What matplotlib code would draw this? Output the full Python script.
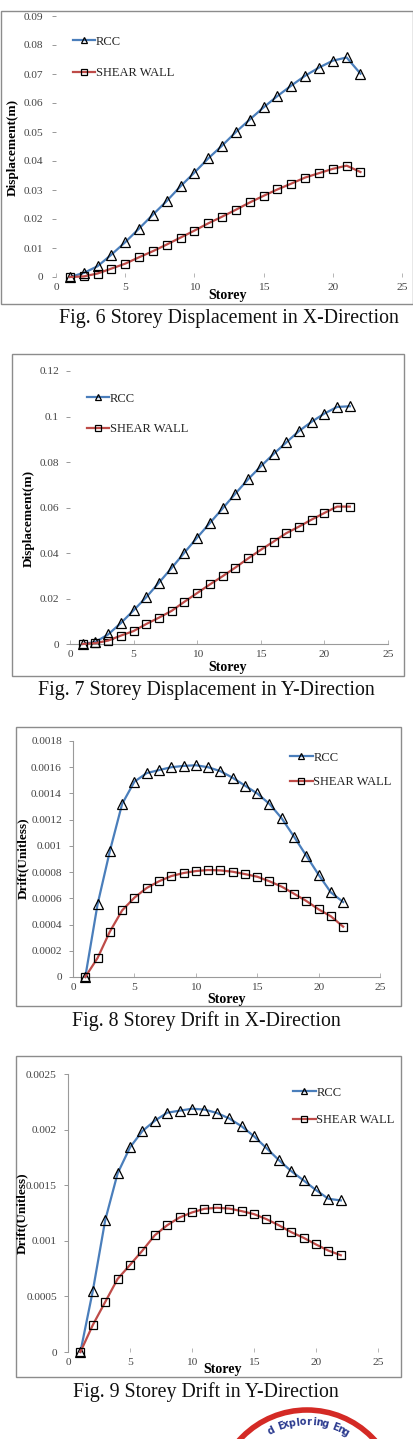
import matplotlib
matplotlib.use("Agg")
import matplotlib.pyplot as plt
import numpy as np
from matplotlib.patches import Rectangle, Circle

W, H = 413, 1439
plt.rcParams['font.family'] = ['Liberation Serif', 'DejaVu Serif']

storey = list(range(1, 23))

# Fig. 6 - storey displacement, X direction (m)
disp_x_rcc = [0, 0.0014, 0.0037, 0.0077, 0.012, 0.0167, 0.0215, 0.0262, 0.0313, 0.036, 0.0409,
              0.0453, 0.05, 0.0543, 0.0585, 0.0624, 0.066, 0.0694, 0.0722, 0.0746, 0.0757, 0.0701]
disp_x_sw = [0, 0.0002, 0.0012, 0.0029, 0.0046, 0.0068, 0.0089, 0.0112, 0.0136, 0.016, 0.0185,
             0.0208, 0.0232, 0.0257, 0.028, 0.0302, 0.0322, 0.0343, 0.0358, 0.0373, 0.0384, 0.0362]

# Fig. 7 - storey displacement, Y direction (m)
disp_y_rcc = [0, 0.0009, 0.0042, 0.0092, 0.0148, 0.0206, 0.027, 0.0335, 0.0402, 0.0468, 0.0532,
              0.0596, 0.0661, 0.0724, 0.0781, 0.0835, 0.0886, 0.0936, 0.0977, 0.1013, 0.1042, 0.1045]
disp_y_sw = [0, 0.0004, 0.0015, 0.0037, 0.0057, 0.0088, 0.0116, 0.0146, 0.0186, 0.0224, 0.0262,
             0.0298, 0.0336, 0.0376, 0.0414, 0.045, 0.0487, 0.0516, 0.0547, 0.0576, 0.0604, 0.0604]

# Fig. 8 - storey drift, X direction
drift_x_rcc = [0, 0.000554, 0.00096, 0.00132, 0.00149, 0.001555, 0.001578, 0.0016, 0.00161, 0.001615, 0.0016,
               0.00157, 0.00152, 0.00146, 0.0014, 0.00132, 0.00121, 0.00107, 0.000925, 0.00078, 0.000645, 0.000572]
drift_x_sw = [0, 0.000145, 0.000346, 0.000508, 0.000605, 0.000679, 0.00073, 0.00077, 0.000793, 0.000808, 0.000816,
              0.000813, 0.000803, 0.000785, 0.000765, 0.00073, 0.000689, 0.000635, 0.00058, 0.000516, 0.000463, 0.000384]

# Fig. 9 - storey drift, Y direction
drift_y_rcc = [0, 0.000549, 0.001185, 0.001606, 0.00184, 0.001987, 0.00208, 0.002152, 0.00217, 0.002188, 0.00218,
               0.00215, 0.0021, 0.00203, 0.00194, 0.001834, 0.001726, 0.001627, 0.001543, 0.001456, 0.001378, 0.001363]
drift_y_sw = [0, 0.000243, 0.00045, 0.000657, 0.000783, 0.000912, 0.00105, 0.00114, 0.00121, 0.001255, 0.001288,
              0.001297, 0.00129, 0.001267, 0.00124, 0.001195, 0.00114, 0.001078, 0.001027, 0.000967, 0.000912, 0.00087]

x_ticks = [0, 5, 10, 15, 20, 25]
y_ticks_6 = ['0', '0.01', '0.02', '0.03', '0.04', '0.05', '0.06', '0.07', '0.08', '0.09']
y_ticks_7 = ['0', '0.02', '0.04', '0.06', '0.08', '0.1', '0.12']
y_ticks_8 = ['0', '0.0002', '0.0004', '0.0006', '0.0008', '0.001', '0.0012', '0.0014', '0.0016', '0.0018']
y_ticks_9 = ['0', '0.0005', '0.001', '0.0015', '0.002', '0.0025']

captions = ['Fig. 6 Storey Displacement in X-Direction',
            'Fig. 7 Storey Displacement in Y-Direction',
            'Fig. 8 Storey Drift in X-Direction',
            'Fig. 9 Storey Drift in Y-Direction']
series_names = ['RCC', 'SHEAR WALL']

fig = plt.figure(figsize=(W / 100, H / 100), dpi=100)

# background axes in pixel units: frames, captions, labels, logo
bg = fig.add_axes([0, 0, 1, 1])
bg.set_xlim(0, W)
bg.set_ylim(H, 0)
bg.axis('off')


def make_axes(left, right, top, bottom):
    return fig.add_axes([left / W, 1 - bottom / H, (right - left) / W, (bottom - top) / H])


panels = [
    dict(box=(56, 402, 16, 277), frame=(0.5, 412.5, 11, 304), yt=y_ticks_6, rcc=disp_x_rcc, sw=disp_x_sw,
         ylab='Displacement(m)', ylxy=(13, 147), xlxy=(228, 296), cap=(229, 318), leg=(0.049, 0.925),
         sp=1.55, spines=[], ypad=6),
    dict(box=(70, 388, 371, 644), frame=(12, 404, 354, 676), yt=y_ticks_7, rcc=disp_y_rcc, sw=disp_y_sw,
         ylab='Displacement(m)', ylxy=(29, 518), xlxy=(228, 668), cap=(206, 690), leg=(0.053, 0.92),
         sp=1.45, spines=['bottom'], ypad=5),
    dict(box=(73, 380, 741, 977), frame=(16, 401, 727, 1006), yt=y_ticks_8, rcc=drift_x_rcc, sw=drift_x_sw,
         ylab='Drift(Unitless)', ylxy=(23, 858), xlxy=(227, 999), cap=(206, 1021), leg=(0.707, 0.955),
         sp=1.0, spines=['left', 'bottom'], ypad=5),
    dict(box=(68, 378, 1074, 1352), frame=(16, 401, 1056, 1377), yt=y_ticks_9, rcc=drift_y_rcc, sw=drift_y_sw,
         ylab='Drift(Unitless)', ylxy=(22, 1213), xlxy=(223, 1369), cap=(206, 1392), leg=(0.726, 0.955),
         sp=1.25, spines=['left'], ypad=5),
]

for p, cap in zip(panels, captions):
    ax = make_axes(*p['box'])
    yvals = [float(v) for v in p['yt']]
    ax.plot(storey, p['rcc'], color='#4a7ebb', lw=1.6, marker='^', ms=7, mfc='none',
            mec='black', mew=0.9, label=series_names[0], clip_on=False, zorder=3)
    ax.plot(storey, p['sw'], color='#be4b48', lw=1.6, marker='s', ms=5.8, mfc='none',
            mec='black', mew=0.9, label=series_names[1], clip_on=False, zorder=3)
    ax.set_xlim(0, 25)
    ax.set_ylim(0, yvals[-1])
    ax.set_xticks(x_ticks)
    ax.set_yticks(yvals)
    ax.set_yticklabels(p['yt'])
    ax.set_facecolor('none')
    for side in ['left', 'right', 'top', 'bottom']:
        ax.spines[side].set_visible(side in p['spines'])
        ax.spines[side].set_color('#9a9a9a')
        ax.spines[side].set_linewidth(0.8)
    ax.tick_params(axis='x', direction='in', length=3, width=0.6, color='#aaaaaa',
                   labelsize=8.2, labelcolor='#444444', pad=4)
    ax.tick_params(axis='y', direction='out', length=3, width=0.6, color='#888888',
                   labelsize=8.2, labelcolor='#444444', pad=p['ypad'])
    leg = ax.legend(loc='upper left', bbox_to_anchor=p['leg'], frameon=False, fontsize=9,
                    handlelength=1.8, handletextpad=0.05, labelspacing=p['sp'],
                    borderpad=0, borderaxespad=0, markerscale=0.7)
    for t in leg.get_texts():
        t.set_color('#222222')

    fl, fr, ft, fb = p['frame']
    bg.add_patch(Rectangle((fl, ft), fr - fl, fb - ft, fill=False, ec='#8c8c8c', lw=1.0))
    bg.text(*p['ylxy'], p['ylab'], rotation=90, ha='center', va='center', fontsize=9.5, fontweight='bold')
    bg.text(*p['xlxy'], 'Storey', ha='center', va='center', fontsize=10, fontweight='bold')
    bg.text(*p['cap'], cap, ha='center', va='center', fontsize=14.3, color='#111111')

# partial journal logo at the bottom edge
cx, cy = 307, 1501
bg.add_patch(Circle((cx, cy), 91, fill=False, ec='#d42a25', lw=4))
logo_text = 'd Exploring Eng'
angles = np.linspace(-27, 29, len(logo_text))
for ch, a in zip(logo_text, angles):
    r = 79
    th = np.radians(a)
    bg.text(cx + r * np.sin(th), cy - r * np.cos(th), ch, rotation=-a, ha='center', va='center',
            fontsize=7, fontweight='bold', color='#2b3a8f', family='DejaVu Sans')

fig.savefig('out.png', dpi=100)
